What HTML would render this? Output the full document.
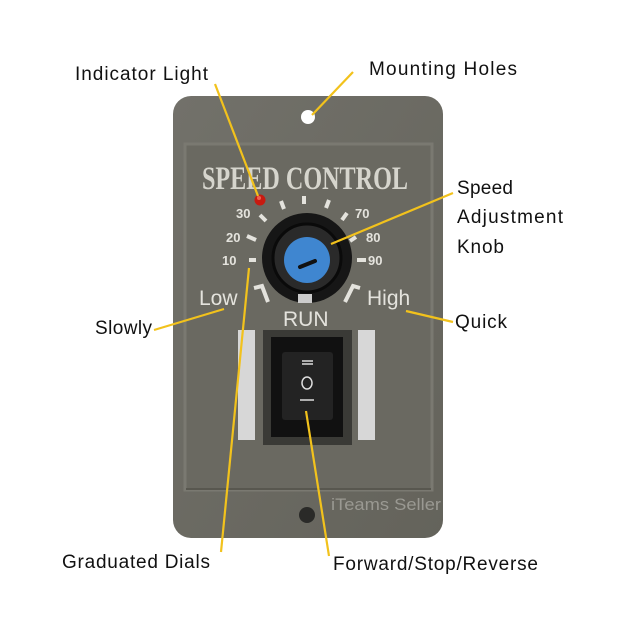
<!DOCTYPE html>
<html><head><meta charset="utf-8"><style>
html,body{margin:0;padding:0;background:#fff;}
svg{display:block;}
</style></head><body>
<svg width="628" height="628" viewBox="0 0 628 628" xmlns="http://www.w3.org/2000/svg">
<defs>
<linearGradient id="pl" x1="0" y1="0" x2="1" y2="1">
<stop offset="0" stop-color="#72716a"/><stop offset="1" stop-color="#64635b"/>
</linearGradient>
</defs>
<rect width="628" height="628" fill="#fff"/>
<rect x="173" y="96" width="270" height="442" rx="18" fill="url(#pl)"/>
<rect x="185" y="144" width="247" height="346" fill="#6a6961" stroke="#7a7971" stroke-width="3"/>
<line x1="186" y1="489" x2="431" y2="489" stroke="#58574f" stroke-width="2"/>
<circle cx="308" cy="117" r="7" fill="#fff"/>
<circle cx="307" cy="515" r="8" fill="#2a2a28"/>
<text x="305" y="189" text-anchor="middle" font-family="Liberation Serif, serif" font-weight="bold" font-size="33" fill="#d6d5cd" textLength="206" lengthAdjust="spacingAndGlyphs">SPEED CONTROL</text>
<circle cx="260" cy="200" r="5.5" fill="#c81a10"/>
<circle cx="259" cy="198" r="2" fill="#f06050"/>
<g font-family="Liberation Sans, sans-serif" font-size="13" fill="#e4e3dd" font-weight="bold">
<text x="236" y="218">30</text><text x="226" y="242">20</text><text x="222" y="265">10</text>
<text x="355" y="218">70</text><text x="366" y="242">80</text><text x="368" y="265">90</text>
</g>
<g stroke="#e4e3dd" stroke-width="4" stroke-linecap="butt">
<line x1="249" y1="260" x2="256" y2="260"/>
<line x1="247" y1="236" x2="256" y2="240"/>
<line x1="260" y1="215" x2="266" y2="221"/>
<line x1="281" y1="201" x2="284" y2="209"/>
<line x1="304" y1="196" x2="304" y2="204"/>
<line x1="329" y1="200" x2="326" y2="208"/>
<line x1="347" y1="213" x2="342" y2="220"/>
<line x1="356" y1="237" x2="350" y2="241"/>
<line x1="357" y1="260" x2="366" y2="260"/>
</g>
<g stroke="#e4e3dd" stroke-width="4" fill="none">
<path d="M254 288 L262 286 L268 302"/>
<path d="M360 288 L353 286 L345 302"/>
</g>
<g font-family="Liberation Sans, sans-serif" font-size="21" fill="#e4e3dd">
<text x="199" y="305">Low</text>
<text x="367" y="305">High</text>
<text x="283" y="326">RUN</text>
</g>
<circle cx="307" cy="258" r="45" fill="#161616"/>
<circle cx="307" cy="258" r="34" fill="#2a2a2a" stroke="#0a0a0a" stroke-width="3"/>
<circle cx="307" cy="260" r="23" fill="#3f86d0"/>
<line x1="300" y1="267" x2="315" y2="261" stroke="#111" stroke-width="4" stroke-linecap="round"/>
<rect x="298" y="294" width="14" height="9" fill="#ccc"/>
<rect x="238" y="330" width="17" height="110" fill="#d7d7d7"/>
<rect x="358" y="330" width="17" height="110" fill="#d7d7d7"/>
<rect x="263" y="330" width="89" height="115" fill="#3a3a36"/>
<rect x="271" y="337" width="72" height="100" fill="#111"/>
<rect x="282" y="352" width="51" height="68" rx="3" fill="#232323"/>
<g stroke="#ddd" stroke-width="1.5" fill="none">
<line x1="302" y1="361" x2="313" y2="361"/><line x1="302" y1="364" x2="313" y2="364"/>
<ellipse cx="307" cy="383" rx="5" ry="6"/>
<line x1="300" y1="400" x2="314" y2="400"/>
</g>
<text x="331" y="510" font-family="Liberation Sans, sans-serif" font-size="17" fill="#9a9992" textLength="110" lengthAdjust="spacingAndGlyphs">iTeams Seller</text>
<g stroke="#f2c21c" stroke-width="2.2">
<line x1="215" y1="84" x2="258" y2="196"/>
<line x1="353" y1="72" x2="312" y2="115"/>
<line x1="453" y1="193" x2="331" y2="244"/>
<line x1="154" y1="330" x2="224" y2="309"/>
<line x1="453" y1="322" x2="406" y2="311"/>
<line x1="221" y1="552" x2="249" y2="268"/>
<line x1="329" y1="556" x2="306" y2="411"/>
</g>
<g font-family="Liberation Sans, sans-serif" font-size="19" fill="#111" lengthAdjust="spacingAndGlyphs">
<text x="75" y="80" textLength="133">Indicator Light</text>
<text x="369" y="75" textLength="148">Mounting Holes</text>
<text x="457" y="194" textLength="56">Speed</text>
<text x="457" y="223" textLength="106">Adjustment</text>
<text x="457" y="253" textLength="47">Knob</text>
<text x="95" y="334" textLength="57">Slowly</text>
<text x="455" y="328" textLength="52">Quick</text>
<text x="62" y="568" textLength="148">Graduated Dials</text>
<text x="333" y="570" textLength="205">Forward/Stop/Reverse</text>
</g>
</svg>
</body></html>
